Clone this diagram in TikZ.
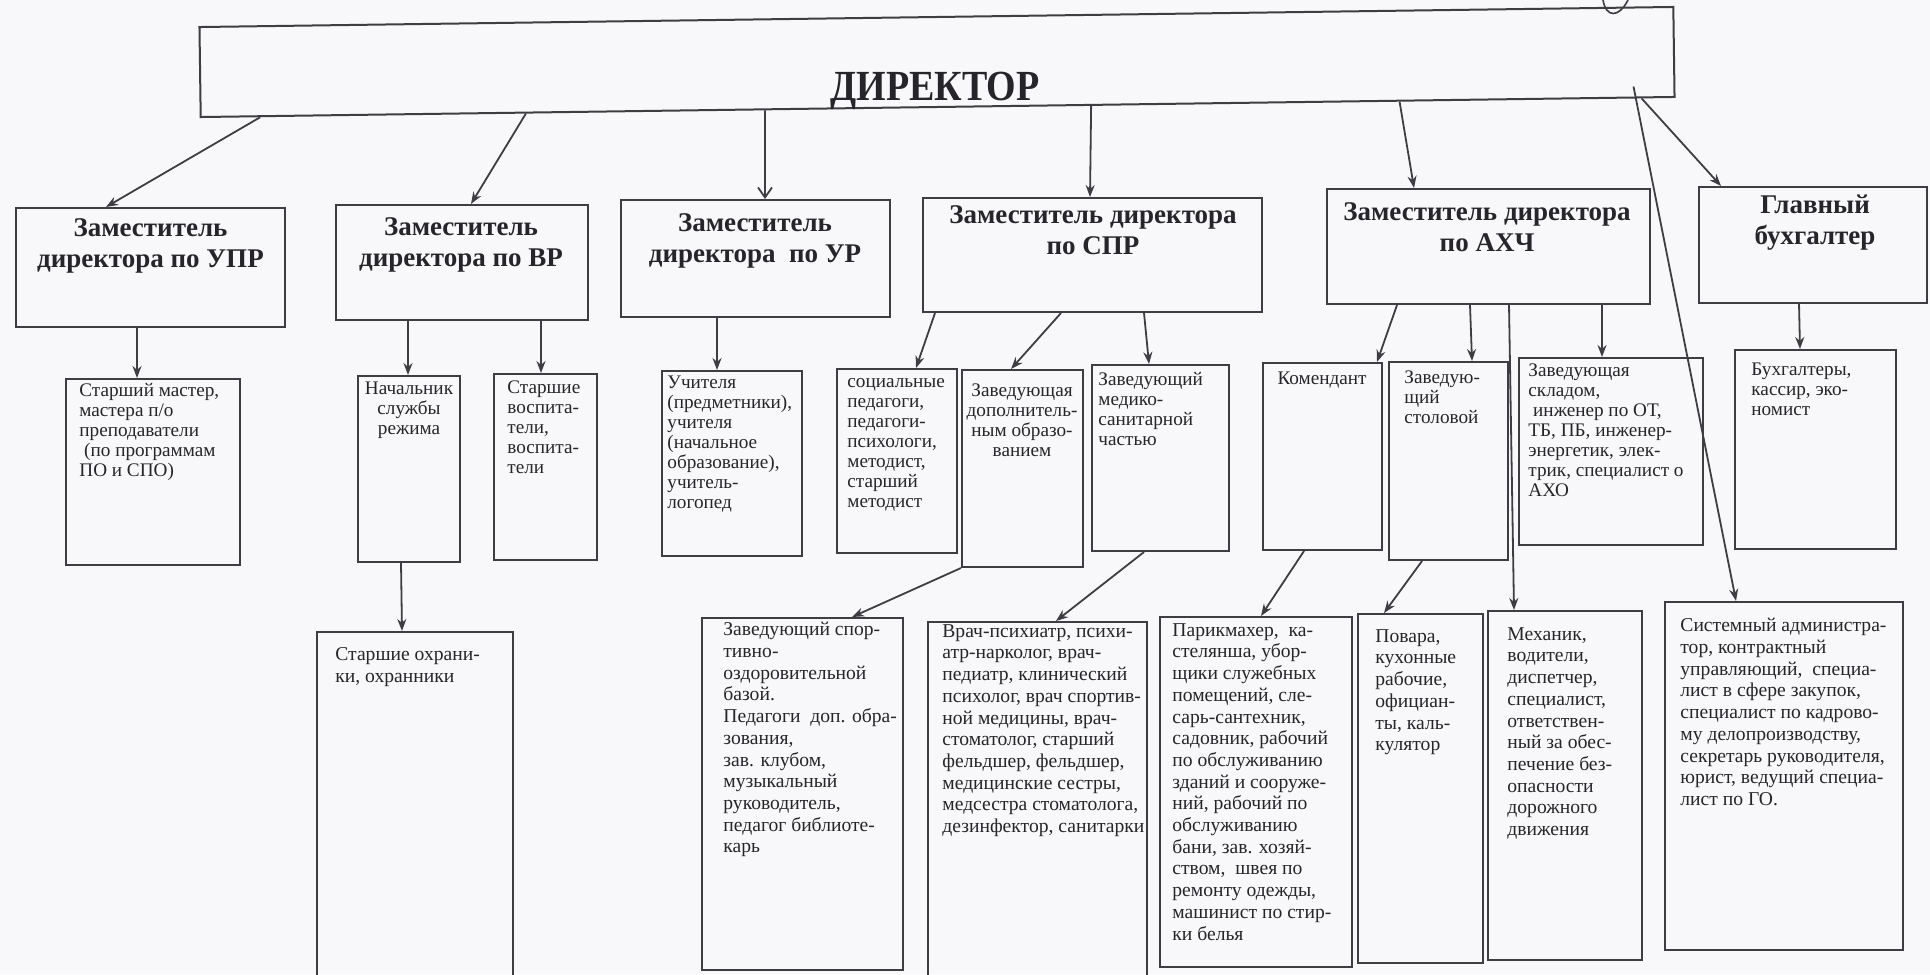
\documentclass[tikz,border=0pt]{standalone}
\usepackage{fontspec}
\setmainfont{Liberation Serif}
\usetikzlibrary{arrows.meta,calc,fit}
\definecolor{bg}{RGB}{248,248,250}
\definecolor{ink}{RGB}{62,62,66}
\definecolor{txtc}{RGB}{38,38,42}
\begin{document}
\begin{tikzpicture}[x=0.5pt,y=-0.5pt,
  box/.style={draw=ink, line width=1pt, inner sep=0pt},
  hd/.style={font=\fontsize{13.5}{15.5}\selectfont\bfseries, align=center, inner sep=0pt, text=txtc, anchor=north},
  mt/.style={font=\fontsize{9.6}{10}\selectfont, align=left, inner sep=0pt, text=txtc, anchor=north west},
  mtc/.style={font=\fontsize{9.6}{10}\selectfont, align=center, inner sep=0pt, text=txtc, anchor=north},
  bt/.style={font=\fontsize{9.8}{10.85}\selectfont, align=left, inner sep=0pt, text=txtc, anchor=north west},
  arr/.style={draw=ink, line width=0.9pt, -{Stealth[length=6pt,width=4.5pt]}},
  barb/.style={draw=ink, line width=0.9pt, -{Straight Barb[length=5pt,width=7pt]}},
]
\fill[bg] (0,0) rectangle (1930,974);
\useasboundingbox (0,0) rectangle (1930,974);
\clip (0,0) rectangle (1930,974);

% stray mark
\draw[ink, line width=0.8pt] (1603,0) .. controls (1606,18) and (1619,18) .. (1628,0);

% director
\node[box, minimum width=737pt, minimum height=45pt, rotate=0.78] (dir) at (937,62) {};
\node[font=\fontsize{19}{21}\selectfont\bfseries, text=txtc, inner sep=0pt, anchor=base] (dirt) at (935,100) {\scalebox{1}[1.13]{ДИРЕКТОР}};

% row 1
\node[box, fit={(16,208) (285,327)}] (upr) {};
\node[hd] (uprt) at (150.5,218) {Заместитель\\директора по УПР};
\node[box, fit={(336,205) (588,320)}] (vr) {};
\node[hd] (vrt) at (461,217) {Заместитель\\директора по ВР};
\node[box, fit={(621,200) (890,317)}] (ur) {};
\node[hd] (urt) at (755,213) {Заместитель\\директора\ \ по УР};
\node[box, fit={(923,198) (1262,312)}] (spr) {};
\node[hd] (sprt) at (1093,205) {Заместитель директора\\по СПР};
\node[box, fit={(1327,189) (1650,304)}] (ahch) {};
\node[hd] (ahcht) at (1487,202) {Заместитель директора\\по АХЧ};
\node[box, fit={(1699,187) (1927,303)}] (gb) {};
\node[hd] (gbt) at (1815,195) {Главный\\бухгалтер};

% row 2
\node[box, fit={(66,379) (240,565)}] (master) {};
\node[mt] (mastert) at (79,383) {Старший мастер,\\мастера п/о\\преподаватели\\\ (по программам\\ПО и СПО)};
\node[box, fit={(358,376) (460,562)}] (nach) {};
\node[mtc] (nacht) at (409,382) {Начальник\\службы\\режима};
\node[box, fit={(494,374) (597,560)}] (vosp) {};
\node[mt] (vospt) at (507,380) {Старшие\\воспита-\\тели,\\воспита-\\тели};
\node[box, fit={(662,371) (802,556)}] (uch) {};
\node[mt] (ucht) at (667,376) {Учителя\\(предметники),\\учителя\\(начальное\\образование),\\учитель-\\логопед};
\node[box, fit={(837,369) (957,553)}] (soc) {};
\node[mt] (soct) at (847,378) {социальные\\педагоги,\\педагоги-\\психологи,\\методист,\\старший\\методист};
\node[box, fit={(962,370) (1083,567)}] (zdop) {};
\node[mtc] (zdopt) at (1022,383) {Заведующая\\дополнитель-\\ным образо-\\ванием};
\node[box, fit={(1092,365) (1229,551)}] (zmed) {};
\node[mt] (zmedt) at (1098,372) {Заведующий\\медико-\\санитарной\\частью};
\node[box, fit={(1263,363) (1382,550)}] (kom) {};
\node[mtc] (komt) at (1322,372) {Комендант};
\node[box, fit={(1389,362) (1508,560)}] (stol) {};
\node[mt] (stolt) at (1404,370) {Заведую-\\щий\\столовой};
\node[box, fit={(1519,358) (1703,545)}] (sklad) {};
\node[mt] (skladt) at (1528,363) {Заведующая\\складом,\\\ инженер по ОТ,\\ТБ, ПБ, инженер-\\энергетик, элек-\\трик, специалист о\\АХО};
\node[box, fit={(1735,350) (1896,549)}] (buh) {};
\node[mt] (buht) at (1751,363) {Бухгалтеры,\\кассир, эко-\\номист};

% row 3
\node[box, fit={(317,632) (513,990)}] (ohr) {};
\node[bt] (ohrt) at (335,647) {Старшие охрани-\\ки, охранники};
\node[box, fit={(702,618) (903,970)}] (sport) {};
\node[bt] (sportt) at (723,622) {Заведующий спор-\\тивно-\\оздоровительной\\базой.\\Педагоги\ \ доп. обра-\\зования,\\зав. клубом,\\музыкальный\\руководитель,\\педагог библиоте-\\карь};
\node[box, fit={(928,622) (1147,990)}] (vrach) {};
\node[bt] (vracht) at (942,624) {Врач-психиатр, психи-\\атр-нарколог, врач-\\педиатр, клинический\\психолог, врач спортив-\\ной медицины, врач-\\стоматолог, старший\\фельдшер, фельдшер,\\медицинские сестры,\\медсестра стоматолога,\\дезинфектор, санитарки};
\node[box, fit={(1160,617) (1352,967)}] (parik) {};
\node[bt] (parikt) at (1172,623) {Парикмахер,\ \ ка-\\стелянша, убор-\\щики служебных\\помещений, сле-\\сарь-сантехник,\\садовник, рабочий\\по обслуживанию\\зданий и сооруже-\\ний, рабочий по\\обслуживанию\\бани, зав. хозяй-\\ством,\ \ швея по\\ремонту одежды,\\машинист по стир-\\ки белья};
\node[box, fit={(1358,614) (1483,963)}] (povar) {};
\node[bt] (povart) at (1375,629) {Повара,\\кухонные\\рабочие,\\официан-\\ты, каль-\\кулятор};
\node[box, fit={(1488,611) (1642,960)}] (mech) {};
\node[bt] (mecht) at (1507,627) {Механик,\\водители,\\диспетчер,\\специалист,\\ответствен-\\ный за обес-\\печение без-\\опасности\\дорожного\\движения};
\node[box, fit={(1665,602) (1903,950)}] (sys) {};
\node[bt] (syst) at (1680,618) {Системный администра-\\тор, контрактный\\управляющий,\ \ специа-\\лист в сфере закупок,\\специалист по кадрово-\\му делопроизводству,\\секретарь руководителя,\\юрист, ведущий специа-\\лист по ГО.};

% connectors from director
\draw[arr] ($(dir.south west)!0.041!(dir.south east)$) -- ($(upr.north west)+(91,0)$);
\draw[arr] ($(dir.south west)!0.221!(dir.south east)$) -- ($(vr.north west)+(136,0)$);
\draw[barb] ($(dir.south west)!0.383!(dir.south east)$) -- ($(ur.north west)+(145,0)$);
\draw[arr] ($(dir.south west)!0.604!(dir.south east)$) -- ($(spr.north west)+(168,0)$);
\draw[arr] ($(dir.south west)!0.813!(dir.south east)$) -- ($(ahch.north west)+(88,0)$);
\draw[arr] ($(dir.south west)!0.977!(dir.south east)$) -- ($(gb.north west)+(23,0)$);
\coordinate (dsys) at ($(dir.south west)!0.9715!(dir.south east)+(0,-12)$);
\draw[arr] (dsys) -- ($(sys.north west)+(72,0)$);

% row 1 -> row 2
\draw[arr] ($(upr.south west)+(122,0)$) -- ($(master.north west)+(72,0)$);
\draw[arr] ($(vr.south west)+(73,0)$) -- ($(nach.north west)+(51,0)$);
\draw[arr] ($(vr.south west)+(206,0)$) -- ($(vosp.north west)+(48,0)$);
\draw[arr] ($(ur.south west)+(97,0)$) -- ($(uch.north west)+(56,0)$);
\draw[arr] ($(spr.south west)+(13,0)$) -- ($(soc.north west)+(80,0)$);
\draw[arr] ($(spr.south west)+(139,0)$) -- ($(zdop.north west)+(50,0)$);
\draw[arr] ($(spr.south west)+(222,0)$) -- ($(zmed.north west)+(58,0)$);
\draw[arr] ($(ahch.south west)+(71,0)$) -- ($(kom.north west)+(115,0)$);
\draw[arr] ($(ahch.south west)+(144,0)$) -- ($(stol.north west)+(84,0)$);
\draw[arr] ($(ahch.south west)+(183,0)$) -- ($(mech.north west)+(27,0)$);
\draw[arr] ($(ahch.south west)+(276,0)$) -- ($(sklad.north west)+(84,0)$);
\draw[arr] ($(gb.south west)+(101,0)$) -- ($(buh.north west)+(66,0)$);

% row 2 -> row 3
\draw[arr] ($(nach.south west)+(44,0)$) -- ($(ohr.north west)+(86,0)$);
\draw[arr] (zdop.south west) -- ($(sport.north west)+(151,0)$);
\draw[arr] ($(zmed.south west)+(53,0)$) -- ($(vrach.north west)+(129,0)$);
\draw[arr] ($(kom.south west)+(42,0)$) -- ($(parik.north west)+(102,0)$);
\draw[arr] ($(stol.south west)+(34,0)$) -- ($(povar.north west)+(27,0)$);
\end{tikzpicture}
\end{document}
